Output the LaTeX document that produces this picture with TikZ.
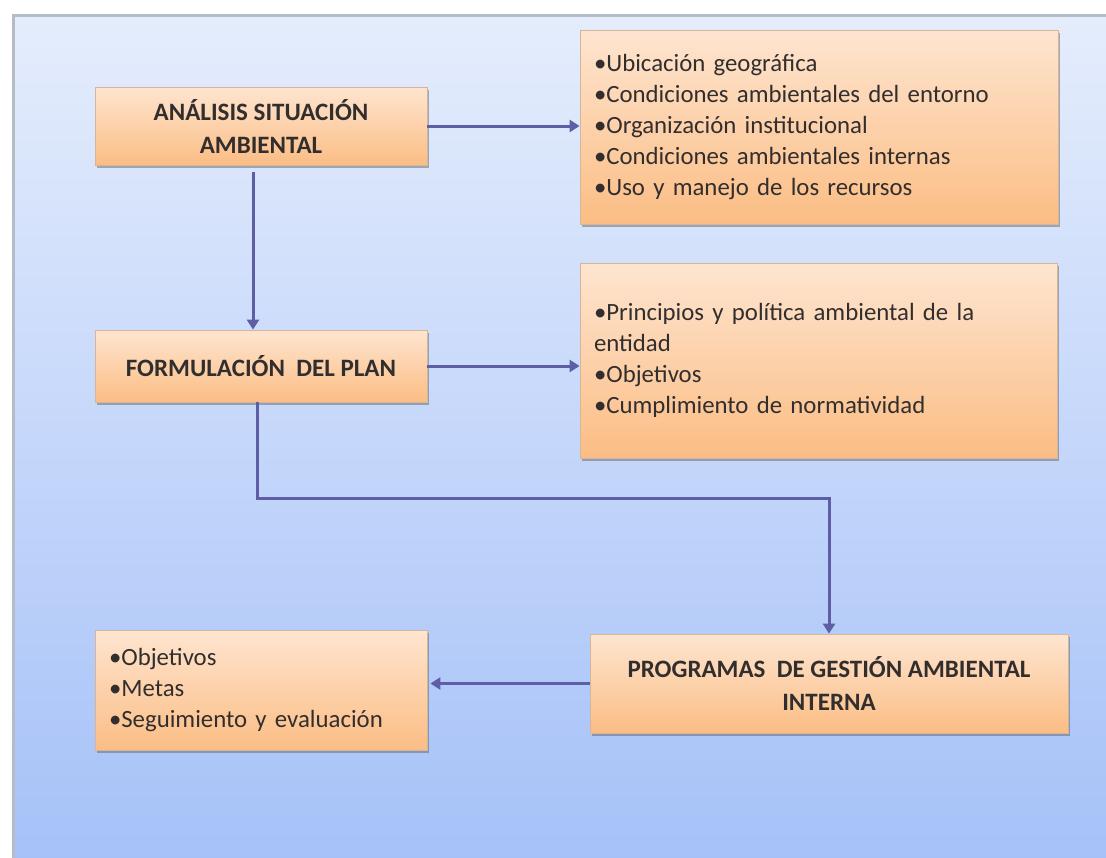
\documentclass[tikz,border=0pt]{standalone}
\usepackage{fontspec}
\setmainfont{Carlito}
\usetikzlibrary{arrows.meta,shadows}
\definecolor{arrowc}{HTML}{5E5EA6}
\definecolor{boxtop}{HTML}{FEE5D0}
\definecolor{boxbot}{HTML}{FBBD84}
\definecolor{boxedge}{HTML}{D6B69A}
\definecolor{txt}{HTML}{332E2E}
\definecolor{bgtop}{HTML}{E5EDFC}
\definecolor{bgmid}{HTML}{C8D3FC}
\definecolor{bgbot}{HTML}{A5C1F8}
\definecolor{framec}{HTML}{B4BCC8}
\tikzset{
  box/.style={draw=boxedge, line width=0.8pt, top color=boxtop, bottom color=boxbot,
    drop shadow={shadow xshift=1.5pt, shadow yshift=-2.5pt, opacity=0.45, fill=gray!70!black},
    text=txt, inner sep=0pt, anchor=center},
  titlebox/.style={box, align=center, font=\fontsize{25}{33}\selectfont\bfseries},
  listbox/.style={box, align=left, inner xsep=14pt, font=\fontsize{24.8}{31}\selectfont},
  conn/.style={draw=arrowc, line width=3pt, -{Triangle[width=12pt,length=10pt]}},
  link/.style={draw=arrowc, line width=3pt}
}
\begin{document}
\begin{tikzpicture}[x=1pt,y=-1pt]
\useasboundingbox (0,0) rectangle (1106,857);
\fill[white] (0,0) rectangle (1106,857);
\shade[top color=bgtop, middle color=bgmid, bottom color=bgbot] (13,15) rectangle (1112,863);
\draw[framec, line width=3pt] (13,870) -- (13,15) -- (1120,15);

\node[titlebox, minimum width=332pt, minimum height=78pt] (A) at (261,126)
  {ANÁLISIS SITUACIÓN\\AMBIENTAL};
\node[titlebox, minimum width=332pt, minimum height=72pt] (B) at (261,366)
  {FORMULACIÓN\ \ DEL PLAN};
\node[listbox, minimum width=478pt, minimum height=194pt, text width=450pt] (C) at (819,127)
  {•Ubicación geográfica\\•Condiciones ambientales del entorno\\•Organización institucional\\•Condiciones ambientales internas\\•Uso y manejo de los recursos};
\node[listbox, minimum width=477pt, minimum height=195pt, text width=449pt] (D) at (818.5,360.5)
  {•Principios y política ambiental de la\\entidad\\•Objetivos\\•Cumplimiento de normatividad};
\node[titlebox, minimum width=478pt, minimum height=99pt] (E) at (829,683.5)
  {PROGRAMAS\ \ DE GESTIÓN AMBIENTAL\\INTERNA};
\node[listbox, minimum width=332pt, minimum height=120pt, text width=304pt] (F) at (261,690)
  {•Objetivos\\•Metas\\•Seguimiento y evaluación};

\coordinate (k) at (0,498);
\draw[conn] (A.east) -- (C.west |- A.east);
\draw[conn] ([xshift=-8pt,yshift=-7pt]A.south) -- ([xshift=-8pt]B.north);
\draw[conn] (B.east) -- (D.west |- B.east);
\draw[conn] ([xshift=-4pt]B.south) -- ([xshift=-4pt]B.south |- k) -- (E.north |- k) -- (E.north);
\draw[conn] (E.west) -- ([xshift=3pt]F.east |- E.west);
\end{tikzpicture}
\end{document}
